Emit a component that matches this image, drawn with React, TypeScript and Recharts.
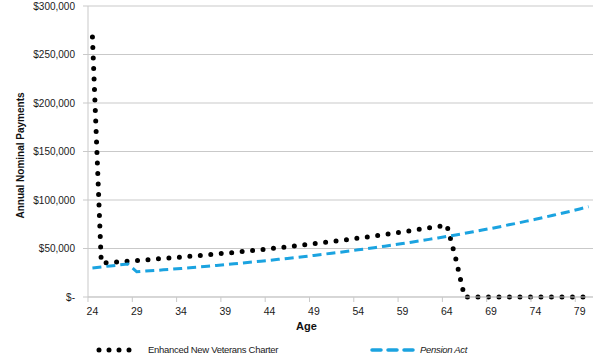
import { LineChart, Line, XAxis, YAxis, CartesianGrid, Legend } from "recharts";

const ages = [
  24, 25, 26, 27, 28, 29, 30, 31, 32, 33, 34, 35, 36, 37, 38, 39, 40, 41, 42,
  43, 44, 45, 46, 47, 48, 49, 50, 51, 52, 53, 54, 55, 56, 57, 58, 59, 60, 61,
  62, 63, 64, 65, 66, 67, 68, 69, 70, 71, 72, 73, 74, 75, 76, 77, 78, 79, 80,
];

const enhancedNVC = [
  268000, 35000, 35500, 36200, 36900, 37600, 38300, 39000, 39700, 40400,
  41100, 41900, 42700, 43500, 44300, 45100, 46000, 46900, 47800, 48700,
  49700, 50700, 51700, 52700, 53800, 54900, 56000, 57100, 58300, 59500,
  60700, 61900, 63200, 64500, 65800, 67100, 68500, 69900, 71300, 72700,
  74200, 40000, 0, 0, 0, 0, 0, 0, 0, 0, 0, 0, 0, 0, 0, 0, 0,
];

const pensionAct = [
  30000, 31000, 32000, 33000, 34000, 26000, 26700, 27300, 28000, 28700,
  29400, 30200, 31000, 31700, 32500, 33400, 34200, 35100, 36000, 36900,
  37800, 38800, 39800, 40800, 41800, 42900, 44000, 45100, 46200, 47400,
  48600, 49800, 51100, 52400, 53700, 55100, 56500, 57900, 59400, 60900,
  62400, 64000, 65600, 67300, 69000, 70700, 72500, 74400, 76200, 78200,
  80100, 82200, 84200, 86400, 88500, 90800, 93100,
];

const xTicks = [24, 29, 34, 39, 44, 49, 54, 59, 64, 69, 74, 79];
const yTicks = [0, 50000, 100000, 150000, 200000, 250000, 300000];

const data = ages.map((age, i) => ({
  age,
  nvc: enhancedNVC[i],
  pension: pensionAct[i],
}));

const BLUE = "#1ba3e0";
const GRID = "#c9c9c9";
const TICK_FONT = "'Liberation Sans', Arial, sans-serif";
const LEGEND_FONT = "'Liberation Sans', Arial, sans-serif";

const fmtMoney = (v: number) => (v === 0 ? "$-" : "$" + v.toLocaleString("en-US"));

// labels sit on the category, tick marks on the category boundary (half a year left)
function AgeTick(props: any) {
  const { x, y, payload } = props;
  const half = 4.43;
  return (
    <g>
      <line x1={x - half} x2={x - half} y1={y} y2={y + 5} stroke={GRID} />
      <text
        x={x}
        y={y + 14}
        textAnchor="middle"
        dominantBaseline="central"
        fontSize={10.5}
        fontFamily={TICK_FONT}
        fill="#1a1a1a"
      >
        {payload.value}
      </text>
    </g>
  );
}

function YTitle(props: any) {
  const vb = props.viewBox || { x: 0, y: 6, width: 88, height: 291 };
  const cx = 20;
  const cy = vb.y + vb.height / 2 + 4;
  return (
    <text
      x={cx}
      y={cy}
      transform={`rotate(-90, ${cx}, ${cy})`}
      textAnchor="middle"
      dominantBaseline="central"
      fontSize={10}
      fontWeight="bold"
      fontFamily={TICK_FONT}
      fill="#111"
    >
      Annual Nominal Payments
    </text>
  );
}

function XTitle(props: any) {
  const vb = props.viewBox || { x: 88, y: 297, width: 505, height: 36 };
  return (
    <text
      x={vb.x + vb.width / 2 - 34}
      y={vb.y + 29}
      textAnchor="middle"
      dominantBaseline="central"
      fontSize={11}
      fontWeight="bold"
      fontFamily={TICK_FONT}
      fill="#111"
    >
      Age
    </text>
  );
}

function ChartLegend() {
  const label = {
    position: "absolute" as const,
    top: 11,
    fontSize: 9.5,
    letterSpacing: -0.3,
    fontFamily: LEGEND_FONT,
    color: "#1a1a1a",
    lineHeight: "12px",
    whiteSpace: "nowrap" as const,
  };
  return (
    <div style={{ position: "relative", height: 27, width: 600 }}>
      <svg style={{ position: "absolute", left: 94, top: 11 }} width={50} height={12}>
        <line
          x1={5}
          x2={45}
          y1={6}
          y2={6}
          stroke="#000"
          strokeWidth={5}
          strokeDasharray="0 10"
          strokeLinecap="round"
        />
      </svg>
      <span style={{ ...label, left: 148 }}>Enhanced New Veterans Charter</span>
      <svg style={{ position: "absolute", left: 369, top: 11 }} width={48} height={12}>
        <line
          x1={3}
          x2={44}
          y1={6}
          y2={6}
          stroke={BLUE}
          strokeWidth={3.5}
          strokeDasharray="9 7"
          strokeLinecap="round"
        />
      </svg>
      <span style={{ ...label, left: 420, fontStyle: "italic" }}>Pension Act</span>
    </div>
  );
}

export default function App() {
  return (
    <div style={{ position: "absolute", left: 0, top: 0, width: 600, height: 360, background: "#fff" }}>
      <LineChart width={600} height={360} data={data} margin={{ top: 6, right: 7, left: 0, bottom: 0 }}>
        <CartesianGrid vertical={false} stroke={GRID} />
        <XAxis
          dataKey="age"
          type="number"
          domain={[23.5, 80.5]}
          ticks={xTicks}
          interval={0}
          height={36}
          stroke={GRID}
          tickLine={false}
          tickSize={0}
          tickMargin={0}
          tick={<AgeTick />}
          label={<XTitle />}
        />
        <YAxis
          domain={[0, 300000]}
          ticks={yTicks}
          interval={0}
          width={88}
          stroke={GRID}
          tickSize={5}
          tickMargin={8}
          tick={{ fontSize: 10, fontFamily: TICK_FONT, fill: "#1a1a1a" }}
          tickFormatter={fmtMoney}
          label={<YTitle />}
        />
        <Legend verticalAlign="bottom" height={27} content={() => <ChartLegend />} />
        <Line
          dataKey="nvc"
          name="Enhanced New Veterans Charter"
          type="linear"
          stroke="#000"
          strokeWidth={5}
          strokeDasharray="0 10.5"
          strokeLinecap="round"
          dot={false}
          isAnimationActive={false}
        />
        <Line
          dataKey="pension"
          name="Pension Act"
          type="linear"
          stroke={BLUE}
          strokeWidth={3}
          strokeDasharray="9 5"
          dot={false}
          isAnimationActive={false}
        />
      </LineChart>
    </div>
  );
}
